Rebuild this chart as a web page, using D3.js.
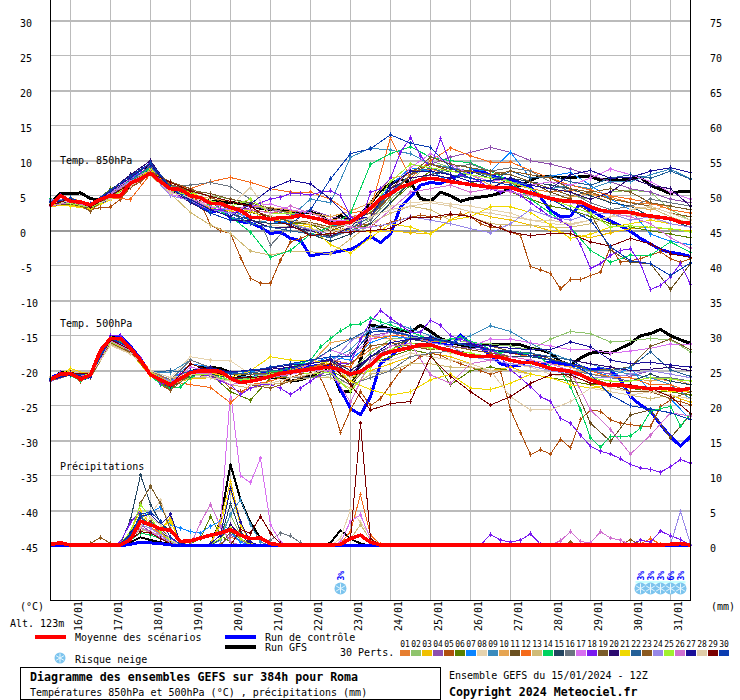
<!DOCTYPE html>
<html><head><meta charset="utf-8">
<script src="https://cdnjs.cloudflare.com/ajax/libs/d3/7.8.5/d3.min.js"></script>
<style>html,body{margin:0;padding:0;background:#fff;overflow:hidden}text{font-family:"DejaVu Sans Mono",monospace;font-size:10px;fill:#000}</style>
</head><body><svg id="c" width="740" height="700"></svg>
<script>
const dateLabels=["16/01","17/01","18/01","19/01","20/01","21/01","22/01","23/01","24/01","25/01","26/01","27/01","28/01","29/01","30/01","31/01"];
const memberColors=["#e67e30","#8fc46c","#f0c000","#8e4fae","#b0500f","#5a8000","#0a84ff","#e6d3ae","#3a8bbd","#e6a552","#6b5020","#f56a1a","#d0bb78","#00d35f","#234560","#6b7580","#d870f0","#7a1af0","#7a5c2a","#2c0a70","#f0d800","#246098","#8b5a20","#9888e8","#a0f030","#d070d0","#1a0f98","#e0cca8","#7a0000","#0a3cb0"];
const memberNames=["01","02","03","04","05","06","07","08","09","10","11","12","13","14","15","16","17","18","19","20","21","22","23","24","25","26","27","28","29","30"];
const leftTicks=[30,25,20,15,10,5,0,-5,-10,-15,-20,-25,-30,-35,-40,-45];
const snowSteps=[29,59,60,61,62,63];
const snowRisk=["3%","3%","3%","3%","6%","3%"];

const mean850=[3.6,5,4.2,4.1,3.7,4.5,5,5,6.8,7.4,8.2,7,6,5.9,5,4.7,3.9,3.9,3.3,2.9,1.9,1.9,1.6,1.9,1.9,2.2,1.9,1.6,1,1.1,1.2,2.2,3.2,4.6,5.3,6.2,6.7,7.3,7.5,7.3,7,6.8,6.6,6.4,6.2,6.2,6.2,5.7,5.4,5,4.6,4.3,4.2,4.1,3.4,2.9,2.7,2.7,2.6,2.3,2.1,1.9,1.7,1.2,1.1];
const control850=[3.8,5,3.9,3.6,3.4,4,4.8,5,7,7.8,8.8,7,5.8,5.5,4.6,3.9,2.7,2.9,1.9,1.3,1.1,.5,-.4,-.2,-1.1,-1.4,-3.6,-3.3,-3.2,-2.9,-2.7,-1.9,-.8,-1.7,-.5,3.4,4.8,6.5,6.9,6.7,7.5,7.9,8.3,8.6,7.9,7.5,7.3,6.7,6.2,4.8,2.9,2,2.1,3.9,2.9,2.1,1.4,.7,-.1,-1.1,-1.9,-2.7,-3.1,-3.3,-3.7];
const gfs850=[3.9,5.3,5.3,5.4,4.6,4.3,4.8,5,6.5,7.8,9.5,7,5.8,5.3,4.8,4.5,4.2,4.2,4,3.9,3.6,3.2,3,3,2.8,2.6,2.6,2.2,1.2,2.2,1.2,2.3,3.9,5.7,6.7,7.3,6.9,4.6,4.2,5.5,5,4.2,4.6,4.8,5,5.4,6.1,6.5,7.2,7.8,7.8,7.6,7.6,7.7,7.7,7.2,7.4,7.2,7.4,7.6,6.5,5.9,5.3,5.6,5.6];
const mean500=[-21.2,-20.5,-20.4,-21.2,-20.6,-17.1,-15.4,-15.4,-16.8,-18.5,-20.6,-21.3,-22,-21.1,-20.3,-20,-20,-20.1,-21.1,-21.7,-21.5,-21.2,-20.8,-20.4,-20.2,-20,-19.8,-19.6,-19.5,-19.9,-20.5,-20.1,-19.2,-17.8,-17.3,-17,-16.7,-16.3,-16.3,-16.8,-17.1,-17.6,-17.9,-18,-17.9,-18.1,-18.5,-18.8,-18.8,-19.2,-19.7,-19.9,-20.1,-20.6,-21.3,-21.8,-22.1,-22,-22.3,-22.4,-22.6,-22.5,-22.6,-22.8,-22.5];
const control500=[-21,-20.4,-20.4,-21.3,-20.8,-17.5,-15.6,-15,-16.5,-18.3,-20.6,-21.5,-22.3,-21.3,-20.5,-20,-20.3,-20.3,-21,-21.4,-21.2,-20.5,-20.2,-20,-19.6,-19.5,-19.4,-19.2,-19.3,-22.7,-25.4,-26.3,-23.7,-19,-18,-16.6,-15.1,-15.5,-15.8,-16,-16.5,-14.9,-16.1,-16.6,-17.8,-19,-19.4,-19.2,-18.5,-19.2,-18.7,-19,-19.2,-19.4,-19.9,-19.7,-19.9,-21.3,-23.7,-24.9,-25.8,-27.7,-29.4,-30.8,-29.4];
const gfs500=[-21.2,-20.3,-20.3,-21.2,-20.6,-17.3,-15.3,-15.2,-16.8,-18.4,-20.5,-21.5,-22.2,-21.2,-20.2,-19.6,-19.5,-19.7,-20.3,-20.8,-21,-21,-21,-20.9,-21.5,-21.3,-20.8,-20,-19.4,-23,-23,-18.5,-13.5,-13.7,-14,-14.2,-14.5,-13.5,-14.4,-15.4,-15.9,-16.3,-16.6,-16.3,-16.3,-16.3,-16.3,-16.3,-16.8,-17,-17.5,-18.7,-19.2,-18.2,-17.5,-17.3,-17.5,-16.8,-16.1,-15,-14.7,-14.1,-15,-15.6,-16.1];
const meanPrecip=[.2,.4,.1,.1,.1,.1,.1,.1,.9,3.5,3,2.4,2.2,.6,.7,1.1,1.5,1.8,2.3,1.5,1,1.1,.3,.1,.1,.1,.1,.1,.1,.2,1,1.5,.5,.1,.1,.1,.1,.1,.1,.1,.1,.1,.1,.1,.1,.1,.1,.1,.1,.1,.1,.1,.1,.1,.1,.1,.1,.1,.1,.1,.1,.1,.2,.3,.1];
const controlPrecipRuns=[[8,.2,.5,.4,.3,.1]];
const gfsPrecipRuns=[[7,.1,.5,1.2,.8,.5,.2],[16,.1,3.7,11.6,6.6,3.3,1.1,.2],[28,.4,2.2,1,.3]];

const t01=[3.9,4.3,3.6,5.0,6.6,8.8,6.3,5.3,4.0,3.5,3.0,2.6,2.8,2.6,1.5,2.0,2.5,6.0,8.5,8.8,8.0,7.5,7.0,6.8,6.0,5.5,5.8,5.2,4.8,4.0,3.8,3.5,3.0];
const t02=[4.3,3.9,3.4,4.6,7.0,8.7,6.0,5.5,5.0,4.5,3.8,3.0,2.5,2.0,0.8,1.0,1.6,4.5,7.0,10.0,9.0,8.0,7.5,7.5,6.5,6.0,5.0,4.5,5.5,5.8,5.5,3.0,1.5];
const t03=[3.5,3.6,3.3,5.1,6.8,8.5,6.4,4.8,3.2,2.8,2.0,1.6,1.2,0.8,0.3,0.0,-0.2,0.0,-0.3,-0.4,1.6,2.7,2.0,1.5,0.8,0.0,-0.5,-1.0,-0.3,0.3,0.5,0.2,0.0];
const t04=[4.1,4.5,3.9,5.5,7.2,9.3,6.1,4.5,3.8,3.2,3.5,3.0,2.2,3.0,2.0,1.5,1.8,5.5,8.0,9.5,10.5,11.2,11.9,11.2,10,9.5,8.8,8.0,7.0,6.0,5.5,4.5,4.0];
const t05=[3.7,5,4,3.6,3,3.3,3.4,4.5,6.2,7,8.2,6.8,6.2,5.4,5,4,.8,0,-.4,-3.8,-6.8,-7.5,-7.5,-4.2,-1.6,-1.1,-.5,-.6,-.5,.2,.5,.8,1,.6,1.2,1.6,1.9,2.2,2,1.9,2.2,2.4,2,1,.5,.5,-.2,-.7,-5.1,-5.6,-6.1,-8.3,-7,-7,-6.4,-5.9,-2.3,-4.5,-4.3,-4,-3.5,-3,-4,-4.5,-4];
const t06=[3.8,4.4,3.5,6.0,7.0,8.6,6.5,5.6,4.0,2.5,1.0,1.5,1.0,1.0,-0.8,0.0,1.0,4.0,6.5,8.5,8.0,7.0,6.0,5.5,4.5,3.5,3.0,2.0,1.0,0.5,0.0,-0.5,-1.0];
const t07=[4.0,4.1,3.7,5.2,7.5,9.0,6.2,4.6,2.8,3.2,1.5,1.0,1.5,1.2,0.5,1.5,3.0,6.5,9.0,8.5,7.0,8.8,8.5,11.2,7.5,7.8,8.3,6.5,4.5,3.0,-0.5,-1.5,-2.0];
const t08=[4.4,4.5,3.8,4.8,6.9,8.2,5.5,4.6,3.5,3.0,2.2,0.8,0.5,0.3,-0.2,0.5,1.8,3.5,4.0,4.2,3.8,3.5,3.0,2.5,1.5,1.0,0.8,1.5,2.0,2.2,1.8,1.0,0.5];
const t09=[4.2,4.6,3.1,4.8,7.1,9.0,6.0,5.0,4.2,2.0,1.0,1.5,2.0,4.5,4.0,10.5,11.8,11.5,11.0,9.5,9.0,8.5,7.8,7.0,6.5,6.0,6.5,6.0,7.0,7.0,8.0,8.8,7.4];
const t10=[4.0,4.2,3.5,5.3,6.7,8.3,5.8,5.2,4.6,4.2,3.5,3.3,3.0,2.5,2.0,2.8,4.0,7.5,8.0,9.0,8.5,8.0,6.5,6.0,5.0,4.5,4.8,5.3,4.0,3.5,3.0,3.5,3.0];
const t11=[3.6,3.8,3.2,4.9,6.4,8.0,6.6,5.2,3.8,3.2,2.6,2.0,1.3,1.0,0.0,1.0,2.0,6.0,8.5,9.5,8.8,8.5,8.0,8.0,7.0,5.5,4.5,2.5,-2.8,-4.5,-4.7,-8.4,-4.7];
const t12=[3.8,4.7,3.7,4.6,4.5,8.1,6.8,6.0,7.0,7.6,6.9,6.0,5.5,5.5,4.5,2.5,3.0,13.3,7.5,10.0,11.8,10.7,9.8,9.8,8.6,7.5,6.5,5.8,5.0,4.5,4.0,3.0,2.5];
const t13=[3.9,4.0,3.6,4.7,6.5,7.9,5.3,2.6,0.8,-0.4,-2.9,-3.5,-2.9,-3.0,-3.3,-1.2,1.0,2.5,3.5,3.0,1.5,2.0,1.0,0.8,0.8,0.5,0.5,1.0,2.0,3.0,3.3,2.0,1.0];
const t14=[4.5,4.1,3.2,5.0,7.3,8.9,5.9,5.4,3.5,2.0,-0.2,-3.8,-2.8,-0.5,0.5,2.5,9.5,11.0,12.0,10.5,10.0,9.7,8.5,7.0,4.5,2.5,0.5,-2.8,-4.5,-3.5,-3.5,-1.6,-3.1];
const t15=[3.7,4.2,3.0,5.1,7.6,9.6,6.4,4.7,3.0,2.5,1.5,1.0,1.0,-0.5,-1.5,-0.5,1.0,4.0,7.0,8.0,8.5,8.5,7.5,7.5,7.0,6.5,6.0,5.0,4.0,3.5,2.0,1.5,0.5];
const t16=[4.1,4.4,3.5,5.2,6.9,8.4,6.3,6.5,6.9,6.3,4.5,-2.1,1.0,0.0,-1.0,0.0,1.5,5.0,7.0,8.0,9.0,9.5,8.5,9.0,8.5,7.0,5.5,4.0,3.0,3.5,4.5,4.0,3.5];
const t17=[4.3,4.6,3.8,5.6,7.4,8.6,5.2,4.4,3.4,3.0,3.5,3.8,3.0,2.5,1.5,1.5,3.5,5.5,9.0,11.0,9.5,8.0,7.0,7.5,6.5,7.0,6.5,7.5,8.8,8.0,7.0,5.5,4.5];
const t18=[4,5,4.3,4,3.6,4.4,5.3,5.5,7.5,8.5,9.8,7,5.5,5,4.3,3.5,3,3,2.5,2.8,3.3,4,4.5,4.8,5.3,5.3,5.1,5.5,5.7,5,2,1,5.5,6,7.5,11.2,13.3,10.7,9,13.2,9.5,8,7.5,7,6,5.5,5.8,5,4,3,2,1.5,.5,-2,-5.4,-4.7,-3.5,-2.8,-2.6,-4.7,-8.4,-7.8,-6.6,-4.7,-7.7];
const t19=[3.6,4.0,3.2,4.9,6.3,8.0,6.6,5.8,5.3,4.5,4.0,3.2,2.5,2.0,1.0,1.5,2.5,5.5,8.0,10.5,9.5,9.0,8.5,8.0,7.0,6.0,5.0,5.5,6.0,5.5,4.0,3.5,3.0];
const t20=[4.0,4.4,3.4,5.8,8.0,10.0,6.0,4.0,2.5,1.5,1.5,0.5,0.5,0.0,-0.8,0.5,3.0,6.0,7.5,8.0,7.5,6.5,6.0,7.5,6.5,6.0,5.5,4.5,5.5,7.5,6.5,6.0,3.5];
const t21=[3.8,3.5,3.1,4.4,6.6,8.8,6.3,5.5,4.2,3.2,2.8,1.5,1.0,0.5,-2.0,-3.2,-1.0,1.0,0.5,-0.5,1.5,2.0,3.4,3.4,2.6,0.8,-1.1,-0.5,0.5,1.0,1.5,1.0,0.5];
const t22=[4.2,4.7,3.5,5.0,7.2,9.2,6.1,4.5,3.0,2.5,1.0,0.5,0.0,-0.5,-1.0,0.3,2.0,5.5,8.0,9.0,8.0,7.5,7.0,8.5,7.5,7.8,7.0,6.5,7.5,8.0,7.5,8.5,7.4];
const t23=[3.9,4.3,2.8,5.3,6.8,8.5,7.0,6.0,4.8,3.5,3.0,2.0,1.5,1.2,0.5,1.0,2.0,5.0,8.0,9.5,8.5,8.5,8.0,8.5,8.0,7.5,6.0,5.5,4.5,4.0,3.5,2.5,2.0];
const t24=[4.4,4.5,3.9,5.4,7.1,8.1,5.0,4.3,3.0,2.5,2.0,1.5,1.0,0.2,-0.5,0.0,0.5,1.0,2.0,1.5,1.0,0.3,-0.3,1.0,3.0,2.0,1.5,2.5,2.5,1.5,2.0,1.0,0.5];
const t25=[4.0,3.9,3.3,4.6,6.8,8.4,5.7,5.0,4.3,3.5,4.5,2.5,2.5,2.0,1.0,1.5,3.0,7.0,9.5,9.0,8.5,8.0,7.5,7.0,6.0,4.5,3.5,2.5,0.5,0.7,0.5,0.3,-0.2];
const t26=[3.5,4.1,3.4,5.2,7.0,8.3,5.6,4.5,3.8,3.3,3.0,2.5,3.5,2.5,1.5,0.5,0.5,3.0,5.5,6.0,6.5,5.5,6.0,5.5,5.0,4.5,4.0,3.5,2.5,2.0,1.0,-1.0,-2.5];
const t27=[4.0,4.3,3.6,5.6,7.6,9.5,6.0,4.4,3.0,2.0,3.8,6.0,7.2,6.7,4.5,1.5,2.0,6.5,8.5,8.5,8.0,7.0,7.2,7.5,6.5,6.0,8.0,8.6,7.5,7.6,8.5,9.0,8.3];
const t28=[3.9,4.2,3.6,4.5,6.4,8.0,5.4,4.8,4.0,3.5,6.2,2.2,1.5,1.0,0.3,1.0,2.0,3.0,3.5,4.0,3.5,2.7,2.5,2.0,1.5,1.5,1.0,1.5,2.0,3.0,3.5,2.5,1.5];
const t29=[3.7,4.5,3.4,5.0,6.7,8.2,6.9,5.7,4.9,4.2,3.5,1.5,0.8,-0.7,-0.4,-0.2,0.0,0.3,1.9,1.9,2.4,2.0,0.8,-0.2,-0.7,-0.4,-0.4,-1.6,-2.2,-1.1,-1.9,-3.3,-3.8];
const t30=[4.1,4.6,3.8,5.8,7.8,9.7,6.2,4.2,2.5,1.5,2.0,1.5,1.0,3.0,7.4,11.0,11.7,13.7,12.5,11.9,9.0,7.5,7.0,6.5,5.5,4.5,3.0,1.5,-2.3,-4.3,-4.7,-6.4,-4.6];

const u01=[-21.3,-20.5,-20.5,-15.8,-17,-20.4,-21.8,-20,-20.2,-21,-21.5,-21,-20.5,-19.8,-18.5,-19,-17,-16,-15.5,-15.8,-16,-16.5,-17,-17.5,-18,-18.5,-19,-20,-21,-21.5,-21,-21.5,-22];
const u02=[-21.2,-20.2,-20.8,-15.8,-17.3,-20.8,-22.3,-20,-19.8,-21.5,-21,-20.5,-20,-19.5,-18.5,-20,-17.5,-15.5,-15.2,-15.5,-15.5,-16,-16.2,-16.5,-17,-15.5,-14.4,-14.7,-15.9,-15.7,-15.4,-15.6,-17.3];
const u03=[-21,-20,-20.9,-15.2,-16.6,-20.3,-21.8,-21.2,-21,-22,-22.5,-21.5,-20.5,-20,-19.5,-21,-20,-19,-18,-17.5,-18,-19,-20,-19.5,-20.5,-21,-21.5,-22,-23,-23.5,-23,-23.5,-24.5];
const u04=[-21.5,-20.6,-21,-15.6,-17,-20.5,-22,-20.3,-20,-20.5,-21,-20.5,-20.2,-20,-19,-17.5,-15,-14.5,-15.5,-16,-16.5,-16.8,-17.2,-18,-18.5,-19,-19.5,-20,-20.5,-20.8,-20,-20.5,-21];
const u05=[-21.1,-20.4,-20.6,-21.5,-20.8,-17.5,-15.8,-15.6,-17,-18.8,-20.5,-22,-22.8,-21,-20,-20.2,-20.5,-21.2,-22.5,-23,-22.5,-22,-22,-21.8,-21,-20.5,-20.3,-21,-24.2,-28.8,-25.6,-23,-25,-24,-22,-20,-19,-18,-17.5,-17.8,-18.5,-19,-19.5,-20,-20.5,-20.1,-25.6,-28.8,-32,-31.3,-31.9,-29.8,-31,-27,-25.6,-25.8,-27,-27.5,-27.7,-27.9,-28,-25.1,-24.2,-24.4,-24.9];
const u06=[-21,-20.3,-20.9,-15.5,-17.2,-20.7,-22.4,-20.8,-20.5,-23,-24.2,-21,-21,-21,-20,-21.5,-19,-18,-17,-17.6,-22,-20,-19.5,-20,-20.5,-21,-21.5,-22,-22,-22.5,-23,-23,-23.5];
const u07=[-21.2,-20.5,-20.5,-15.7,-16.8,-20.3,-21.5,-19,-19.5,-20.5,-20.2,-19.5,-19,-19,-18,-18.5,-16,-15,-15.5,-16,-16.5,-17,-17.5,-18,-18.5,-19,-19.5,-20,-20.8,-19.6,-23,-24,-27];
const u08=[-20.9,-20.3,-20.6,-16.3,-17.5,-20,-21,-18,-18.5,-18.6,-20.5,-21,-20.5,-20,-21,-22,-18.5,-17.5,-16,-16.5,-17.5,-18,-18.5,-19,-19.5,-20.5,-21,-21.5,-22.5,-23,-22.8,-23.5,-24];
const u09=[-21.1,-20.4,-20.7,-15.6,-17,-20.2,-20.2,-18.5,-19.5,-20.5,-21,-20.5,-20.5,-19.5,-18.5,-17,-14,-13,-14,-15,-16,-15,-13.6,-14.4,-16.1,-17.5,-18.5,-19,-20,-20.5,-21,-22,-24];
const u10=[-21,-20.2,-20.3,-16,-17.3,-20.2,-21.3,-20,-20.5,-21,-21,-20.5,-20,-19,-16,-15.5,-15,-15.5,-16.5,-16.8,-17,-17.5,-18,-18,-18.5,-19,-19.5,-20.5,-20.8,-21,-21.5,-21,-22];
const u11=[-21.3,-20.5,-20.8,-15.6,-17,-20.6,-22.5,-20.5,-20.7,-21.5,-22,-21.5,-20.5,-20,-18.5,-21,-18,-17,-16,-16.5,-17,-17.5,-18,-18.5,-19,-19.5,-21,-27.5,-30.1,-26.3,-25.6,-29.6,-26.3];
const u12=[-21.1,-20.3,-20.5,-15.5,-16.6,-20,-21.5,-22,-22.4,-24.6,-22,-21.5,-20.5,-19.5,-19,-19.5,-15.5,-15,-15,-15.5,-16,-16.5,-17,-17.5,-18,-18.5,-19,-20,-21,-21,-22,-22,-23];
const u13=[-21.4,-20.6,-21,-16.2,-17.5,-20.5,-22,-21,-21,-22,-22.5,-22,-21.5,-21,-21,-22.5,-20.5,-20,-19,-19,-19.5,-19.5,-20,-20,-20.5,-21,-22,-22.5,-23,-23.5,-24,-23.5,-24];
const u14=[-21.2,-20.5,-20.7,-21.4,-20.9,-17.8,-16,-15.8,-17,-18.8,-20.6,-22,-22.5,-22.3,-21,-20.5,-20.5,-21,-21.5,-21.5,-21,-20.5,-20.2,-20,-19.5,-19,-18.5,-16.6,-15.4,-14.3,-13.5,-13.3,-12.5,-13,-13.5,-14,-14.5,-15,-15.5,-15.8,-15.5,-15.2,-15.8,-16.2,-17,-17.5,-17.2,-17.5,-17.5,-18,-19.5,-20,-22.3,-25.6,-29.6,-30.9,-29.4,-29.4,-29.3,-28.2,-25.8,-25.4,-25.1,-27.9,-26.1];
const u15=[-21.2,-20.4,-20.8,-15.5,-17,-20.4,-21.6,-20.7,-20.5,-21,-21.3,-21,-20.5,-20,-19.5,-21,-18,-16.5,-15.5,-16,-16.5,-17,-17.5,-18,-18,-18.5,-19,-20.5,-21,-21.5,-20.5,-21.5,-22];
const u16=[-21.1,-20.4,-20.6,-15.8,-17.2,-20,-21.3,-18.5,-19.5,-20.5,-20.5,-20.5,-21,-21,-20.5,-22,-21,-20,-18,-17.5,-17.2,-17.5,-18,-18.5,-19,-19.5,-20,-20.5,-21,-21.5,-21,-21,-21.5];
const u17=[-21,-20.3,-20.5,-15.7,-17,-20.6,-21.8,-19.5,-20,-21,-21,-20.5,-20.5,-19,-17,-18,-15.5,-14.5,-15,-15.5,-16,-16.5,-15.5,-15.5,-16,-16.5,-17,-17,-17.5,-17.2,-16.8,-16.2,-16.2];
const u18=[-21,-20.3,-20.5,-21,-20.4,-17,-15,-15,-16.6,-18.2,-20.3,-21.8,-21.8,-20.5,-20,-20.5,-20.8,-21.5,-22,-23.4,-22.5,-22,-22,-22.5,-23.4,-22.5,-21.5,-20.5,-20,-19,-19,-15.5,-13,-11.4,-12.5,-13.5,-14.5,-14.5,-12.8,-13.5,-15,-15.5,-16,-16.5,-17,-18,-19.9,-21,-22.3,-23.7,-24.4,-26.8,-27.5,-29.2,-30.8,-31.5,-31.9,-32.6,-33.4,-33.9,-34.1,-34.5,-33.7,-32.7,-33.2];
const u19=[-21.1,-20.3,-20.6,-15.6,-16.8,-20.5,-22,-20.2,-19.8,-20.5,-20.5,-20.3,-20,-19.5,-18.5,-22,-19,-17,-15.5,-15.3,-16,-16.2,-16.5,-17.2,-17.5,-18.3,-19,-20,-19.8,-19.5,-16.5,-15.5,-17];
const u20=[-21.2,-20.5,-20.8,-15.5,-16.9,-20.7,-22.2,-20,-19.5,-20.3,-20,-19.8,-19.5,-19,-18.3,-20,-18,-16,-15.5,-15.5,-16,-16.3,-17,-17.5,-17.8,-18,-18.5,-19,-19.5,-20,-19.8,-19.5,-20];
const u21=[-21.3,-19.7,-20.6,-15.9,-17.4,-20.8,-22.2,-20,-20.3,-21,-20,-18,-18.5,-18.5,-19,-21.5,-22.7,-23.5,-23,-21.3,-20.5,-22.5,-22.7,-21.8,-20.5,-21,-22,-22.5,-22,-22.5,-22.5,-23,-23];
const u22=[-21,-20.4,-20.5,-15.3,-16.8,-20.2,-20,-20.3,-20,-20.5,-20.3,-20,-19.8,-18.8,-17,-15.5,-14,-14.5,-15,-15.5,-16,-16.5,-17,-17.2,-17.5,-18,-18.5,-20,-20,-19.5,-17.3,-19.9,-20.8];
const u23=[-21.4,-20.6,-21,-16,-17.4,-20.6,-22.8,-20.5,-21,-21.5,-22,-22.5,-21.5,-20.5,-19.8,-19,-16.5,-16,-16.5,-17,-16.5,-17,-17.5,-18,-18.5,-19,-20,-21,-22,-23,-23,-24,-23];
const u24=[-21,-20.3,-20.7,-15.6,-16.9,-20.4,-21.5,-20.2,-20,-21,-21,-20.5,-20.3,-20,-19,-15.8,-14,-14,-15,-16,-16.5,-18,-18.5,-19,-19.3,-20,-20.5,-21,-21,-20.5,-20,-20.5,-21];
const u25=[-21.1,-20.4,-20.5,-15.9,-17.1,-20.3,-21.7,-20.6,-20.6,-21.4,-21.2,-20.5,-20,-20.5,-20.2,-23,-19.5,-17,-16,-16.8,-17.2,-17.5,-18,-18.5,-19,-19.5,-20.3,-21,-21.5,-21.5,-21,-21.2,-21.5];
const u26=[-21.2,-20.5,-20.8,-15.7,-17.1,-20.5,-21.9,-20.3,-20.5,-22,-21.5,-21,-20.5,-20,-20,-24.5,-18.5,-16.5,-16.1,-20.6,-21.8,-19,-18.5,-18,-18.5,-19,-20,-25.6,-28.4,-31.9,-29.2,-26,-26.5];
const u27=[-21.3,-20.6,-20.9,-15.3,-16.7,-20.4,-22.2,-20,-19.6,-20.2,-19.9,-19.6,-19.2,-19,-18.5,-20.5,-18,-16,-15.5,-15.2,-16,-16.2,-16.5,-16.8,-17,-17,-15.9,-16.6,-18.5,-19,-18.8,-19.2,-19.5];
const u28=[-20.9,-20.2,-20.5,-16.4,-17.6,-20,-21,-20.5,-21,-21.5,-22,-21.8,-21,-20.5,-19.5,-21,-19,-18.5,-17.5,-18,-18.5,-19,-20,-23.7,-25.6,-25.6,-24.4,-22.5,-23,-23.5,-23,-23.5,-24];
const u29=[-21.1,-20.3,-20.5,-15.6,-17,-20.6,-22.1,-19,-20,-21,-21,-20.7,-20.3,-20,-19,-22,-25.6,-24.7,-24.4,-18,-20.8,-23,-24.9,-23.7,-21.8,-20.6,-20.6,-21.8,-22,-22,-22.5,-23.7,-26.1];
const u30=[-21.2,-20.4,-20.7,-15.4,-16.7,-20.5,-22,-20,-20,-20.3,-20,-19.5,-19,-18.5,-18,-18,-14.5,-14.3,-15,-15.5,-15.8,-16.5,-17,-17.3,-17.8,-18.5,-19,-20.5,-23.5,-25,-25.5,-26,-27];

const p01=[[7,.2,1.5,3,2.5,1.8,1,.2],[17,.3,1.2,.8,.2]];
const p02=[[7,.1,.8,2,3.5,2,.8,.1],[16,.3,1.5,4.4,1.5,.3]];
const p03=[[7,.3,2,4,3,2.4,4,.5],[16,.2,3.7,9.2,3.3,.5]];
const p04=[[7,.2,1,3,2,1,.4],[18,1.5,.8]];
const p05=[[7,.1,1.2,2.5,2,1.2,.5]];
const p06=[[7,.2,1,4.5,2.5,1.5,.5],[14,.3,1,4.2,1.5,.5]];
const p07=[[7,.2,1.5,4,4.8,5.5,3,2.5,2,1.8,2.8,3.5,2,.5]];
const p08=[[7,.2,1.5,3.5,4.5,6.5,2.5,.4],[29,1,5.2,3.3,1.4,.2]];
const p09=[[7,.1,1.3,3,3.5,2,1,.2],[17,.8,4.5,6.6,3,.5]];
const p10=[[7,.2,1,2.5,2,1.5,.8]];
const p11=[[7,.3,1.5,3,3.5,2.5,1,.2],[18,2,1,.3]];
const p12=[[7,.2,2,3,2.5,2,.5],[29,.3,2,7.3,1.5,.2],[59,.3,1,.2]];
const p13=[[7,.1,1.2,2.2,2,1.5,.6],[29,.3,1,3,.8]];
const p14=[[7,.1,.8,1.8,1.5,1,.3]];
const p15=[[7,.3,3.7,10.1,5.9,3.3,2,.3],[17,1,6,2,.4]];
const p16=[[7,.2,1,2.5,2,1,.4],[22,.8,1.8,1.4,.4]];
const p17=[[7,.1,1,2.5,2,1.2,.4],[17,3,22,10,9,12.5,3,.5],[29,.5,3.5,4.4,1,.1]];
const p18=[[6,.1,.5,3.3,5,3,2,1,.2],[43,.1,1.6,.8,.5,.8,1.7,.2],[58,.1,.8,.5,2.1,1.4,.9,.1]];
const p19=[[7,.3,1.5,6.1,8.5,6,2.3,.3]];
const p20=[[7,.2,1.2,3,3.2,2,.8],[17,1,3,1.5,.3]];
const p21=[[7,.3,2,5,3,2.5,3.5,.4],[16,.3,3,8,3,.4]];
const p22=[[7,.1,1.5,4,3,2,.6]];
const p23=[[4,.3,1.2,.3],[7,.2,1,2.5,2,1,.4],[51,.1,.5,.1],[57,.2,.8,.2]];
const p24=[[7,.1,1.2,3,2.5,1.5,.5],[62,.2,4.9,.2]];
const p25=[[7,.3,2,5.9,4,2,.7,.1],[16,.2,1,2.5,1,.1]];
const p26=[[7,.1,1,2.5,2,1,.3],[15,3.3,5.9,2.8,.6],[50,.1,.7,2,.6,.4,2,1.1,.8,.1]];
const p27=[[7,.2,1.8,4.2,4.5,3,4.5,.4],[16,.3,1.5,8.2,3.4,.5]];
const p28=[[7,.1,1,2.8,4,3,.8,.1]];
const p29=[[7,.1,.8,2,1.8,1,.3],[19,2.3,1.8,4.2,1.8,.3],[30,1,17.5,1,.1]];
const p30=[[7,.2,1.5,4.5,4.8,3.5,1.2,.2]];

const members850=[t01,t02,t03,t04,t05,t06,t07,t08,t09,t10,t11,t12,t13,t14,t15,t16,t17,t18,t19,t20,t21,t22,t23,t24,t25,t26,t27,t28,t29,t30];
const members500=[u01,u02,u03,u04,u05,u06,u07,u08,u09,u10,u11,u12,u13,u14,u15,u16,u17,u18,u19,u20,u21,u22,u23,u24,u25,u26,u27,u28,u29,u30];
const membersPrecip=[p01,p02,p03,p04,p05,p06,p07,p08,p09,p10,p11,p12,p13,p14,p15,p16,p17,p18,p19,p20,p21,p22,p23,p24,p25,p26,p27,p28,p29,p30];

const STEPS=65;
const x=d3.scaleLinear().domain([0,64]).range([50.5,690.5]);
const yT=d3.scaleLinear().domain([30,-45]).range([20.7,545.7]);
const yP=d3.scaleLinear().domain([0,75]).range([545.7,20.7]);
const svg=d3.select("#c");

/* grid */
const grid=svg.append("g").attr("shape-rendering","crispEdges");
grid.selectAll("line.v").data(dateLabels).join("line").attr("class","v")
 .attr("x1",(d,i)=>x(2+i*4)).attr("x2",(d,i)=>x(2+i*4)).attr("y1",0).attr("y2",601).attr("stroke","#bbb");
grid.selectAll("line.h").data(leftTicks.filter(v=>v!==-45)).join("line").attr("class","h")
 .attr("x1",x(0)).attr("x2",x(64)).attr("y1",d=>yT(d)).attr("y2",d=>yT(d))
 .attr("stroke",d=>d===0?"#999":"#bbb").attr("stroke-width",d=>d===0?2.4:(d%10===0?2.2:1));

/* axes */
const axL=svg.append("g").attr("transform","translate(50.5,0)").call(d3.axisLeft(yT).tickValues(leftTicks).tickSize(0).tickFormat(d=>d));
axL.select("path").remove();
axL.selectAll("text").attr("text-anchor","start").attr("x",-30.5).attr("y",0).attr("dy",6).text(d=>d);
const rightTicks=leftTicks.map(v=>v+45);
const axR=svg.append("g").attr("transform","translate(690.5,0)").call(d3.axisRight(yP).tickValues(rightTicks).tickSize(0));
axR.select("path").remove();
axR.selectAll("text").attr("x",19.5).attr("y",0).attr("dy",6);
const axB=svg.append("g").attr("transform","translate(0,600.5)").call(d3.axisBottom(x).tickValues(dateLabels.map((d,i)=>2+i*4)).tickSize(0).tickFormat((d)=>dateLabels[(d-2)/4]));
axB.select("path").remove();
axB.selectAll("text").attr("transform","translate(10.5,30.5) rotate(-90)").attr("text-anchor","start").attr("x",0).attr("y",0).attr("dy",0);

/* series */
const expand=runs=>{const a=new Array(STEPS).fill(0);runs.forEach(r=>r.slice(1).forEach((v,j)=>{a[r[0]+j]=v}));return a};
const marker=d3.symbol().type(d3.symbolDiamond).size(7);
function drawMember(vals,y,color,skipZero){
  const step=vals.length>=STEPS?1:2;
  const pts=vals.map((v,i)=>[x(i*step),y(v),v]);
  const g=svg.append("g");
  g.append("path").attr("d",d3.line()(pts.map(p=>[p[0],p[1]]))).attr("fill","none").attr("stroke",color).attr("stroke-width",1).attr("shape-rendering","crispEdges");
  g.selectAll("path.m").data(pts.filter(p=>!skipZero||p[2]>0)).join("path").attr("class","m").attr("d",marker).attr("transform",p=>`translate(${p[0]},${p[1]})`).attr("fill",color).attr("shape-rendering","crispEdges");
}
function thick(vals,y,color,w){
  svg.append("path").attr("d",d3.line().x((v,i)=>x(i)).y(v=>y(v))(vals)).attr("fill","none").attr("stroke",color).attr("stroke-width",w).attr("stroke-linejoin","round").attr("shape-rendering","crispEdges");
}
thick(gfs850,yT,"#000",3);thick(gfs500,yT,"#000",3);thick(expand(gfsPrecipRuns),yP,"#000",2);
thick(control850,yT,"#00f",3);thick(control500,yT,"#00f",3);
membersPrecip.forEach((r,i)=>drawMember(expand(r),yP,memberColors[i],true));
members850.forEach((m,i)=>drawMember(m,yT,memberColors[i]));
members500.forEach((m,i)=>drawMember(m,yT,memberColors[i]));
thick(expand(controlPrecipRuns),yP,"#00f",3);
thick(mean850,yT,"#f00",3.6);thick(mean500,yT,"#f00",3.6);thick(meanPrecip,yP,"#f00",3.6);

/* frame */
const fr=svg.append("g").attr("stroke","#000").attr("shape-rendering","crispEdges");
fr.append("line").attr("x1",50.5).attr("x2",50.5).attr("y1",0).attr("y2",600.5);
fr.append("line").attr("x1",690.5).attr("x2",690.5).attr("y1",0).attr("y2",600.5);
fr.append("line").attr("x1",50.5).attr("x2",690.5).attr("y1",600.5).attr("y2",600.5);

/* snow */
function flake(g,cx,cy,r){
  g.append("circle").attr("cx",cx).attr("cy",cy).attr("r",r).attr("fill","#7cc4ee");
  for(let a=0;a<3;a++){const t=a*Math.PI/3+Math.PI/2;
    g.append("line").attr("x1",cx-Math.cos(t)*(r-1)).attr("y1",cy-Math.sin(t)*(r-1)).attr("x2",cx+Math.cos(t)*(r-1)).attr("y2",cy+Math.sin(t)*(r-1)).attr("stroke","#e8f8ff").attr("stroke-width",1);}
}
const sn=svg.append("g");
sn.append("rect").attr("x",x(59)-5).attr("y",581).attr("width",x(63)-x(59)+10).attr("height",2.5).attr("fill","#c8ffff");
snowSteps.forEach((s,i)=>{
  flake(sn,x(s),588.5,6);
  sn.append("text").attr("transform",`translate(${x(s)+3},580.5) rotate(-90)`).style("font-size","8px").style("font-weight","bold").style("fill","#00f").text(snowRisk[i]);
});

/* labels */
const T=(s,px,py,o={})=>{const t=svg.append("text").attr("x",px).attr("y",py).text(s);if(o.bold)t.style("font-weight","bold");if(o.size)t.style("font-size",o.size+"px");if(o.anchor)t.attr("text-anchor",o.anchor);return t};
T("Temp. 850hPa",60,164);T("Temp. 500hPa",60,327);T("Précipitations",60,470);
T("(°C)",20,610);T("Alt. 123m",10,627);T("(mm)",711,610);
svg.append("rect").attr("x",35).attr("y",635).attr("width",31).attr("height",4).attr("fill","#f00");
svg.append("rect").attr("x",225).attr("y",635).attr("width",31).attr("height",4).attr("fill","#00f");
svg.append("rect").attr("x",225).attr("y",645).attr("width",31).attr("height",4).attr("fill","#000");
T("Moyenne des scénarios",75,641);T("Run de contrôle",265,641);T("Run GFS",265,651);
flake(svg,60,658,5.5);T("Risque neige",75,663);T("30 Perts.",340,656);
memberNames.forEach((n,i)=>{
  T(n,405+i*11,646.5,{size:8,anchor:"middle"});
  svg.append("rect").attr("x",400+i*11).attr("y",650).attr("width",10).attr("height",6).attr("fill",memberColors[i]);
});
svg.append("rect").attr("x",20.5).attr("y",667.5).attr("width",420).attr("height",32).attr("fill","none").attr("stroke","#000").attr("shape-rendering","crispEdges");
T("Diagramme des ensembles GEFS sur 384h pour Roma",30,681,{bold:true,size:11.6});
T("Températures 850hPa et 500hPa (°C) , précipitations (mm)",30,696);
T("Ensemble GEFS du 15/01/2024 - 12Z",449,679);
T("Copyright 2024 Meteociel.fr",449,696,{bold:true,size:11.6});
</script></body></html>
